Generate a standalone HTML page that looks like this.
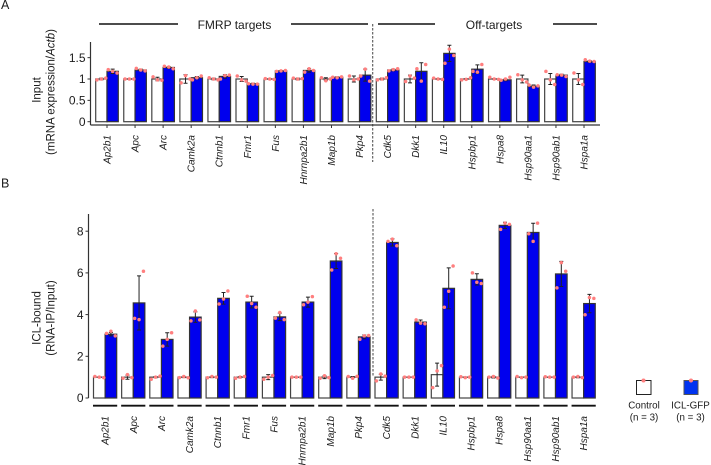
<!DOCTYPE html>
<html lang="en">
<head>
<meta charset="utf-8">
<title>FMRP targets and off-targets chart</title>
<style>
html,body{margin:0;padding:0;background:#fff;}
svg{display:block;font-family:"Liberation Sans",Arial,sans-serif;fill:#1c1c1c;filter:blur(0.3px);}
</style>
</head>
<body>
<svg id="chart" width="711" height="465" viewBox="0 0 711 465" xmlns="http://www.w3.org/2000/svg">
  <text x="1" y="9" font-size="12.5">A</text>
  <text x="1" y="187.5" font-size="12.5">B</text>

  <line x1="99" x2="178" y1="24" y2="24" stroke="#111" stroke-width="1.4"/>
  <text x="234.5" y="28.8" font-size="12" text-anchor="middle">FMRP targets</text>
  <line x1="291" x2="368" y1="24" y2="24" stroke="#111" stroke-width="1.4"/>
  <line x1="378" x2="435" y1="24" y2="24" stroke="#111" stroke-width="1.4"/>
  <text x="494" y="28.8" font-size="12" text-anchor="middle">Off-targets</text>
  <line x1="553" x2="597" y1="24" y2="24" stroke="#111" stroke-width="1.4"/>

  <line x1="372.7" x2="372.7" y1="24" y2="162" stroke="#555" stroke-width="1.1" stroke-dasharray="2.5 1.5"/>
  <line x1="373" x2="373" y1="209" y2="377" stroke="#555" stroke-width="1.1" stroke-dasharray="2.5 1.5"/>

  <text transform="translate(40.5,90) rotate(-90)" font-size="11.5" text-anchor="middle">Input</text>
  <text transform="translate(54.5,92) rotate(-90)" font-size="11.5" text-anchor="middle">(mRNA expression/<tspan font-style="italic">Actb</tspan>)</text>
  <text transform="translate(40.5,318) rotate(-90)" font-size="11.5" text-anchor="middle">ICL-bound</text>
  <text transform="translate(54.5,318) rotate(-90)" font-size="11.5" text-anchor="middle">(RNA-IP/Input)</text>

  <g id="panelA"></g>
  <g id="panelB"></g>

  <g>
    <rect x="636.5" y="380.5" width="14.5" height="14" fill="#fff" stroke="#222" stroke-width="1"/>
    <circle cx="643.5" cy="380.5" r="2" fill="#ff8080"/>
    <text x="644" y="408.5" font-size="9.8" text-anchor="middle">Control</text>
    <text x="644" y="420.5" font-size="9.8" text-anchor="middle">(n = 3)</text>
    <rect x="684" y="380.5" width="14" height="14" fill="#0033f0" stroke="#555" stroke-width="1"/>
    <circle cx="691" cy="380.5" r="2" fill="#ff8080"/>
    <text x="690.5" y="408.5" font-size="9.8" text-anchor="middle">ICL-GFP</text>
    <text x="690.5" y="420.5" font-size="9.8" text-anchor="middle">(n = 3)</text>
  </g>
</svg>
<script>
const genes = ["Ap2b1","Apc","Arc","Camk2a","Ctnnb1","Fmr1","Fus","Hnrnpa2b1","Map1b","Pkp4","Cdk5","Dkk1","IL10","Hspbp1","Hspa8","Hsp90aa1","Hsp90ab1","Hspa1a"];

const inputTicks = [0, 0.5, 1, 1.5];
const inputControlMeans = [1,1,1,1,1,1,1,1,1,1,1,1,1,1,1,1,1,1];
const inputControlErrors = [0.02,0.01,0.04,0.1,0.02,0.06,0.01,0.02,0.03,0.07,0.02,0.09,0.01,0.01,0.01,0.09,0.13,0.13];
const inputGfpMeans = [1.18,1.21,1.27,1.03,1.06,0.89,1.19,1.2,1.04,1.09,1.21,1.18,1.6,1.23,0.98,0.83,1.09,1.41];
const inputGfpErrors = [0.05,0.02,0.02,0.03,0.04,0.01,0.01,0.04,0.01,0.14,0.02,0.2,0.19,0.1,0.02,0.03,0.02,0.02];
const inputControlPoints = [[0.98,1,1.02],[1,1,1],[1.05,0.98,0.97],[0.91,1.08,1],[1.03,1,0.98],[1.07,0.98,0.95],[1.01,1,0.99],[1.02,1,1.01],[1.03,0.96,1],[1.07,0.98,1],[0.98,1,1.03],[0.94,1.07,1.02],[1.02,1,0.99],[0.98,0.99,1.03],[1.04,1,0.99],[1.1,0.98,0.93],[1.18,0.98,0.87],[1.14,0.98,0.87]];
const inputGfpPoints = [[1.22,1.18,1.14],[1.25,1.21,1.19],[1.3,1.28,1.24],[0.98,1.03,1.07],[1,1.08,1.09],[0.89,0.88,0.88],[1.18,1.19,1.2],[1.16,1.24,1.2],[1.04,1.03,1.05],[1.07,1.23,0.95],[1.19,1.22,1.24],[1.24,0.95,1.34],[1.37,1.7,1.55],[1.18,1.16,1.34],[0.97,1,1.04],[0.86,0.81,0.84],[1.1,1.09,1.06],[1.45,1.42,1.41]];

const boundTicks = [0, 2, 4, 6, 8];
const boundControlMeans = [1,1,1,1,1,1,1,1,1,1,1,1,1.12,1,1,1,1,1];
const boundControlErrors = [0.01,0.1,0.03,0.02,0.02,0.03,0.12,0.01,0.07,0.03,0.14,0.01,0.55,0.01,0.04,0.01,0.01,0.03];
const boundGfpMeans = [3.06,4.56,2.81,3.88,4.78,4.6,3.89,4.6,6.57,2.93,7.46,3.64,5.26,5.69,8.28,7.94,5.95,4.53];
const boundGfpErrors = [0.08,1.3,0.32,0.25,0.28,0.28,0.18,0.24,0.36,0.09,0.17,0.1,0.98,0.27,0.15,0.44,0.6,0.44];
const boundControlPoints = [[1.03,1,0.98],[0.95,1.12,0.98],[0.9,1,1.05],[0.98,1.03,0.97],[0.97,1.03,1],[0.95,1,1.03],[0.9,1,1.08],[1,1,1],[0.95,1.07,0.98],[1.03,0.95,1.04],[0.82,1.15,1.05],[1,1,1],[0.5,1.3,1.55],[1.02,0.98,1],[1,1.03,0.96],[1.03,0.98,1],[1.02,1,1],[1,1.03,0.98]];
const boundGfpPoints = [[3.1,3.2,2.98],[3.82,3.76,6.08],[2.49,2.81,3.13],[3.7,4.17,3.75],[4.51,4.75,5.13],[4.88,4.53,4.35],[3.83,4.1,3.76],[4.47,4.6,4.86],[6.14,6.92,6.7],[2.82,2.98,3],[7.51,7.62,7.3],[3.75,3.59,3.56],[4.35,5.12,6.33],[6,5.55,5.49],[8.09,8.39,8.33],[7.88,7.51,8.39],[5.28,6.49,6.08],[3.99,4.82,4.78]];

const NS = "http://www.w3.org/2000/svg";

function make(parent, tag, attrs) {
  const el = document.createElementNS(NS, tag);
  for (const k in attrs) el.setAttribute(k, attrs[k]);
  parent.appendChild(el);
  return el;
}

function drawPanel(cfg) {
  const root = document.getElementById(cfg.id);
  const yScale = v => cfg.y0 - v * cfg.unit;
  const xScale = i => cfg.x0 + i * cfg.step;

  const yAxis = make(root, "line", {x1: cfg.axisX, x2: cfg.axisX, y1: cfg.axisTop, y2: cfg.axisBottom, stroke: "#333", "stroke-width": 1.2});
  
  

  cfg.ticks.forEach(t => {
    const tick = make(root, "line", {x1: cfg.axisX - 3, x2: cfg.axisX, y1: yScale(t), y2: yScale(t), stroke: "#333", "stroke-width": 1});
    
    
    const label = make(root, "text", {x: cfg.axisX - 5, y: yScale(t) + 4.2, "font-size": 12, "text-anchor": "end"});
    label.textContent = String(t);
    
    
  });

  if (cfg.xAxisLine) {
    const xAxis = make(root, "line", {x1: cfg.axisX, x2: 600, y1: cfg.axisBottom, y2: cfg.axisBottom, stroke: "#333", "stroke-width": 1.2});
    
    
  }

  genes.forEach((gene, i) => {
    const left = xScale(i);
    const mid = left + cfg.barW;
    const right = mid + cfg.barW;

    const controlBar = make(root, "rect", {x: left, y: yScale(cfg.cMeans[i]), width: cfg.barW, height: cfg.y0 - yScale(cfg.cMeans[i]), fill: "#fff", stroke: "#444", "stroke-width": 1.2});
    
    

    const gfpBar = make(root, "rect", {x: mid, y: yScale(cfg.gMeans[i]), width: cfg.barW, height: cfg.y0 - yScale(cfg.gMeans[i]), fill: "#0000ee", stroke: "#333", "stroke-width": 1.2});
    
    

    [[left + cfg.barW / 2, cfg.cMeans[i], cfg.cErrs[i]], [mid + cfg.barW / 2, cfg.gMeans[i], cfg.gErrs[i]]].forEach(e => {
      const hi = yScale(e[1] + e[2]);
      const lo = yScale(e[1] - e[2]);
      const err = make(root, "path", {d: "M" + (e[0] - 2) + " " + hi + "H" + (e[0] + 2) + "M" + e[0] + " " + hi + "V" + lo + "M" + (e[0] - 2) + " " + lo + "H" + (e[0] + 2), fill: "none", stroke: "#222", "stroke-width": 1});
      
      
    });

    [[left + cfg.barW / 2, cfg.cPoints[i]], [mid + cfg.barW / 2, cfg.gPoints[i]]].forEach(s => {
      s[1].forEach((v, k) => {
        const dot = make(root, "circle", {cx: s[0] + (k - 1) * 4.4, cy: yScale(v), r: 1.75, fill: "#ff7f7f"});
        
        
      });
    });

    if (cfg.xAxisLine) {
      const xTick = make(root, "line", {x1: mid, x2: mid, y1: cfg.axisBottom, y2: cfg.axisBottom + 3, stroke: "#333", "stroke-width": 1});
      
      
    } else {
      const underline = make(root, "line", {x1: left - 0.5, x2: right + 0.5, y1: cfg.axisBottom + 7.7, y2: cfg.axisBottom + 7.7, stroke: "#111", "stroke-width": 1.8});
      
      
    }

    const geneLabel = make(root, "text", {transform: "translate(" + (mid + 3.5) + "," + cfg.labelTop + ") rotate(-90)", "font-size": 10, "font-style": "italic", "text-anchor": "end"});
    geneLabel.textContent = gene;
    
    
  });
}

drawPanel({id: "panelA", y0: 121.7, unit: 42.7, x0: 95.7, step: 28.06, barW: 11.3, axisX: 90.5, axisTop: 42, axisBottom: 125, xAxisLine: true, labelTop: 135, ticks: inputTicks, cMeans: inputControlMeans, cErrs: inputControlErrors, gMeans: inputGfpMeans, gErrs: inputGfpErrors, cPoints: inputControlPoints, gPoints: inputGfpPoints});
drawPanel({id: "panelB", y0: 398, unit: 20.85, x0: 93.5, step: 28.15, barW: 11.6, axisX: 88.5, axisTop: 214, axisBottom: 398, xAxisLine: false, labelTop: 416, ticks: boundTicks, cMeans: boundControlMeans, cErrs: boundControlErrors, gMeans: boundGfpMeans, gErrs: boundGfpErrors, cPoints: boundControlPoints, gPoints: boundGfpPoints});
</script>
</body>
</html>
